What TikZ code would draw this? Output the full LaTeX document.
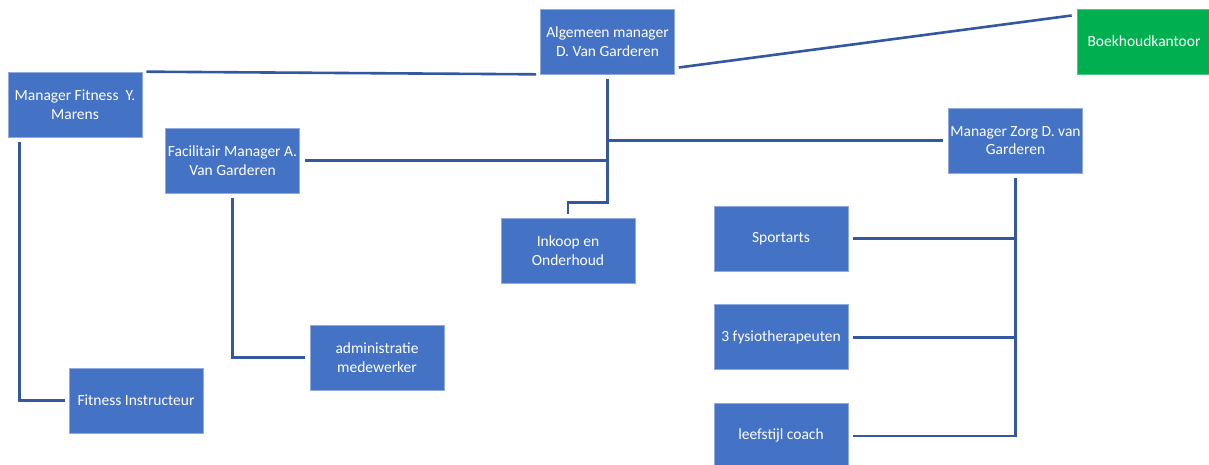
\documentclass[tikz,border=0pt]{standalone}
\usepackage{fontspec}
\setmainfont{Carlito}
\definecolor{boxblue}{RGB}{68,114,196}
\definecolor{edgeblue}{RGB}{143,170,220}
\definecolor{lineblue}{RGB}{52,88,160}
\definecolor{boxgreen}{RGB}{0,176,80}
\usetikzlibrary{positioning}

\begin{document}
\begin{tikzpicture}[x=1pt, y=-1pt,
        orgbox/.style={rectangle, fill=boxblue, draw=edgeblue, line width=0.7pt,
                       minimum width=134pt, minimum height=65pt, inner sep=0pt,
                       align=center, text=white, font=\fontsize{15.5}{18.5}\selectfont},
        extbox/.style={orgbox, fill=boxgreen, draw=boxgreen!70!white},
        conn/.style={lineblue, line width=2.6pt}
    ]
    \fill[white] (0,0) rectangle (1209,465);
    \useasboundingbox (0,0) rectangle (1209,465);

    % boxes
    \node[orgbox] (alg) at (607.5,41.5) {Algemeen manager\\D. Van Garderen};
    \node[extbox] (boek) at (1144,41.5) {Boekhoudkantoor};
    \node[orgbox] (fitman) at (75,104.5) {Manager Fitness\ \ Y.\\Marens};
    \node[orgbox] (facman) at (232.5,160.5) {Facilitair Manager A.\\Van Garderen};
    \node[orgbox] (zorg) at (1015.5,140.5) {Manager Zorg D. van\\Garderen};
    \node[orgbox] (inkoop) at (568,250.5) {Inkoop en\\Onderhoud};
    \node[orgbox] (sport) at (781,238.5) {Sportarts};
    \node[orgbox, below=33pt of sport] (fysio) {3 fysiotherapeuten};
    \node[orgbox, below=33pt of fysio] (leef) {leefstijl coach};
    \node[orgbox] (admin) at (377,357.5) {administratie\\medewerker};
    \node[orgbox] (instr) at (136,400.5) {Fitness Instructeur};

    % connectors
    \draw[conn, shorten <=4pt, shorten >=4pt] (fitman.north east) -- (alg.south west);
    \draw[conn] ([xshift=4pt,yshift=-26pt]alg.east) -- ([xshift=-5pt,yshift=26pt]boek.west);
    \draw[conn] ([yshift=-5pt]alg.south) -- ++(0,123) -| ([yshift=4pt]inkoop.north);
    \draw[conn] ([xshift=5pt]facman.east) -- (facman.east -| alg.south);
    \draw[conn] (zorg.west -| alg.south) -- ([xshift=-5pt]zorg.west);
    \draw[conn] ([yshift=-5pt]zorg.south) |- ([xshift=5pt]leef.east);
    \foreach \n in {sport, fysio}
        \draw[conn] ([xshift=5pt]\n.east) -- (\n.east -| zorg.south);
    \draw[conn] ([xshift=12pt,yshift=-5pt]fitman.south west) |- ([xshift=-4pt]instr.west);
    \draw[conn] ([yshift=-5pt]facman.south) |- ([xshift=-5pt]admin.west);
\end{tikzpicture}
\end{document}
